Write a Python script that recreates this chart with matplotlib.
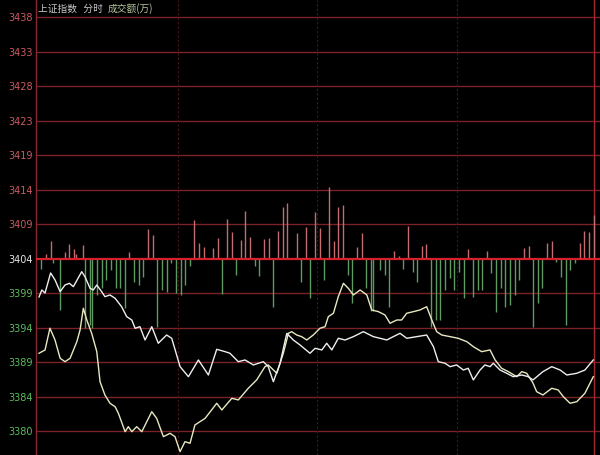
import numpy as np
import matplotlib
matplotlib.use("Agg")
import matplotlib.pyplot as plt

plt.rcParams['font.family'] = ['Noto Sans CJK SC', 'DejaVu Sans']

# y ticks (labels as printed on the chart)
base_price = 3404.0
tick_step = 4.85
tick_labels = ['3380', '3384', '3389', '3394', '3399', '3404', '3409',
               '3414', '3419', '3423', '3428', '3433', '3438']

# price line 1 (white) : minute, price
line1_min = [0, 1.2, 2.6, 5.0, 6.9, 9.1, 11.2, 13.1, 14.8, 18.4, 19.8, 22.0, 23.4, 24.9,
             27.0, 28.4, 30.6, 32.8, 35.6, 37.8, 40.0, 41.4, 43.5, 45.7, 48.6, 51.4,
             55.0, 57.2, 60.8, 64.4, 68.7, 73.0, 76.6, 80.2, 82.3, 85.9, 88.8, 92.4,
             96.7, 98.8, 101.0, 103.9, 106.8, 109.6, 112.5, 116.8, 119.0, 121.9, 124.0,
             126.2, 129.0, 131.9, 135.5, 139.8, 144.1, 147.0, 149.9, 152.7, 155.6,
             158.5, 162.8, 167.1, 170.0, 172.1, 175.0, 177.2, 180.0, 182.9, 185.0,
             187.2, 190.1, 192.2, 194.4, 195.8, 198.7, 201.6, 204.4, 208.1, 210.9,
             212.9, 217.2, 221.0, 224.6, 227.5, 231.8, 235.3, 238.9]
line1_val = [3398.66, 3399.64, 3399.22, 3402.03, 3401.05, 3399.40, 3400.34, 3400.58,
             3400.11, 3402.21, 3401.51, 3399.88, 3399.64, 3400.34, 3399.40, 3398.70,
             3398.94, 3398.47, 3397.29, 3395.89, 3395.42, 3394.26, 3394.48, 3392.61,
             3394.48, 3392.15, 3393.31, 3392.85, 3388.86, 3387.45, 3389.80, 3387.69,
             3391.30, 3390.97, 3390.74, 3389.56, 3389.80, 3389.10, 3389.56, 3388.86,
             3386.75, 3389.34, 3393.55, 3392.61, 3391.91, 3390.74, 3391.44, 3391.21,
             3392.15, 3391.21, 3392.85, 3392.61, 3393.08, 3393.78, 3393.08, 3392.85,
             3392.61, 3393.08, 3393.55, 3392.85, 3393.08, 3393.31, 3391.67, 3389.56,
             3389.34, 3388.86, 3389.10, 3388.39, 3388.63, 3386.99, 3388.39, 3389.10,
             3388.86, 3389.34, 3388.39, 3387.93, 3387.45, 3387.69, 3387.45, 3386.99,
             3388.16, 3388.86, 3388.39, 3387.69, 3387.93, 3388.39, 3389.80]

# price line 2 (yellowish)
line2_min = [0, 2.6, 4.7, 6.9, 9.1, 11.2, 13.4, 16.3, 17.7, 19.1, 20.6, 22.7, 24.9, 26.3,
             28.4, 30.6, 32.8, 34.2, 37.1, 38.5, 40.0, 42.1, 44.3, 48.6, 50.7, 53.6,
             56.5, 58.6, 60.8, 62.9, 65.1, 67.2, 71.6, 76.6, 78.8, 83.1, 85.9, 90.2,
             93.8, 97.4, 98.8, 102.5, 105.3, 107.5, 108.9, 111.1, 113.2, 115.4, 118.2,
             121.1, 123.3, 124.7, 126.9, 129.0, 131.2, 133.3, 135.5, 138.4, 141.3,
             143.4, 146.3, 149.1, 151.3, 154.2, 156.3, 158.5, 161.3, 164.2, 167.1,
             169.3, 171.4, 173.6, 177.2, 180.7, 184.4, 187.2, 190.8, 194.4, 196.6,
             199.4, 202.3, 205.9, 208.1, 210.2, 212.9, 214.5, 217.2, 221.0, 223.8,
             226.0, 228.9, 231.8, 235.3, 238.9]
line2_val = [3390.74, 3391.21, 3394.26, 3392.61, 3390.04, 3389.56, 3390.04, 3392.37,
             3394.02, 3397.07, 3395.42, 3393.55, 3390.97, 3386.75, 3384.88, 3383.71,
             3383.23, 3382.31, 3379.72, 3380.42, 3379.72, 3380.42, 3379.72, 3382.53,
             3381.60, 3379.02, 3379.49, 3379.02, 3376.91, 3378.31, 3378.09, 3380.66,
             3381.60, 3383.71, 3382.77, 3384.41, 3384.18, 3385.82, 3386.99, 3388.86,
             3389.10, 3387.93, 3390.74, 3393.55, 3393.78, 3393.31, 3393.08, 3392.61,
             3393.31, 3394.26, 3394.48, 3395.89, 3396.37, 3398.70, 3400.58, 3399.88,
             3398.94, 3399.64, 3398.94, 3396.83, 3396.59, 3396.13, 3394.96, 3395.42,
             3395.42, 3396.37, 3396.59, 3396.83, 3397.29, 3395.42, 3393.78, 3393.31,
             3393.08, 3392.85, 3392.37, 3391.67, 3390.97, 3391.21, 3389.80, 3388.63,
             3388.16, 3387.45, 3388.16, 3387.93, 3386.57, 3385.34, 3384.88, 3385.82,
             3385.58, 3384.64, 3383.71, 3383.94, 3385.12, 3387.45]

# red bars (above 3404)
up_min = [3, 5, 11, 13, 15, 16, 19, 39, 47, 49, 67, 69, 71, 75, 77, 81, 83, 87, 89, 91,
          97, 99, 103, 105, 107, 111, 115, 119, 121, 125, 127, 129, 131, 137, 139, 153,
          155, 159, 165, 167, 185, 193, 209, 211, 219, 221, 233, 235, 237, 239]
up_h = [0.70, 2.53, 0.98, 2.11, 1.41, 0.70, 1.97, 0.98, 4.22, 3.37, 5.48, 2.25, 1.69,
        1.55, 2.95, 5.62, 3.80, 2.67, 6.75, 3.09, 2.81, 2.95, 3.94, 7.31, 7.87, 3.66,
        4.50, 6.61, 4.36, 10.12, 2.53, 7.31, 7.59, 1.69, 3.66, 1.12, 0.42, 4.64, 1.83,
        2.11, 1.41, 1.12, 1.55, 1.83, 2.25, 2.53, 2.25, 3.94, 3.80, 6.19]

# green bars (below 3404)
down_min = [1, 6, 9, 20, 22, 23, 25, 27, 29, 31, 33, 35, 37, 41, 43, 45, 51, 53, 55, 57,
            59, 61, 63, 65, 79, 85, 93, 95, 101, 113, 117, 123, 133, 135, 141, 143, 144,
            147, 149, 151, 157, 161, 163, 169, 171, 173, 175, 177, 179, 181, 183, 187,
            189, 191, 195, 197, 199, 201, 203, 205, 207, 213, 215, 217, 223, 225, 227,
            229, 231]
down_h = [1.41, 0.56, 7.17, 9.70, 9.28, 9.70, 5.06, 4.08, 2.95, 1.55, 4.08, 4.08, 6.89,
          3.23, 3.66, 2.53, 9.56, 4.36, 4.64, 0.56, 4.78, 5.06, 3.66, 0.98, 4.92, 2.25,
          0.98, 2.39, 6.75, 3.23, 5.48, 2.95, 2.25, 6.19, 4.08, 7.31, 7.31, 1.55, 2.25,
          6.75, 1.41, 1.83, 3.23, 9.56, 8.58, 8.58, 4.36, 2.67, 4.36, 1.83, 5.48, 5.34,
          4.36, 4.36, 1.97, 7.45, 4.08, 6.75, 6.47, 5.06, 2.95, 9.56, 6.19, 4.08, 0.42,
          2.53, 9.28, 1.55, 0.56]

fig = plt.figure(figsize=(6, 4.55), dpi=100)
fig.patch.set_facecolor('black')
ax = fig.add_axes([36 / 600, 0, 564 / 600, 1])
ax.set_facecolor('black')

ticks = base_price + tick_step * np.arange(-5, 8)
for t in ticks:
    if t == base_price:
        continue
    ax.axhline(t, color='#7a2228', lw=1.0, zorder=1)

for m in [60, 120, 180]:
    ax.axvline(m, color='#4a1518', lw=0.8, ls=(0, (2, 2)), zorder=1)
ax.axvline(239.2, color='#a02a30', lw=1.0, zorder=1)

ax.vlines(up_min, base_price, base_price + np.array(up_h), color='#c46c6e', lw=1.0, zorder=2)
ax.vlines(down_min, base_price - np.array(down_h), base_price, color='#5f9a62', lw=1.0, zorder=2)
ax.axhline(base_price, color='#d8202c', lw=1.6, zorder=3)

# lines
ax.plot(line2_min, line2_val, color='#e8e8c0', lw=1.0, zorder=4)
ax.plot(line1_min, line1_val, color='#eeeeee', lw=1.0, zorder=4)

ax.set_xlim(-1.3, 241.8)
ax.set_ylim(3376.44, 3440.41)
ax.set_xticks([])
ax.set_yticks(ticks)
ax.set_yticklabels(tick_labels, fontsize=7, family='DejaVu Sans')
ax.tick_params(axis='y', length=0, pad=2)
for lab, t in zip(ax.get_yticklabels(), ticks):
    if t > base_price:
        lab.set_color('#cc5a62')
    elif t < base_price:
        lab.set_color('#5cbc5e')
    else:
        lab.set_color('#e8e8e8')
for s in ['top', 'right', 'bottom']:
    ax.spines[s].set_visible(False)
ax.spines['left'].set_color('#8a2a30')
ax.spines['left'].set_linewidth(1.0)

fig.text(38 / 600, 1 - 9 / 455, '上证指数   分时', color='#c8c8c8', fontsize=7, va='center')
fig.text(108 / 600, 1 - 9 / 455, '成交额(万)', color='#b4c49c', fontsize=7, va='center')

fig.savefig('out.png', dpi=100, facecolor='black')
